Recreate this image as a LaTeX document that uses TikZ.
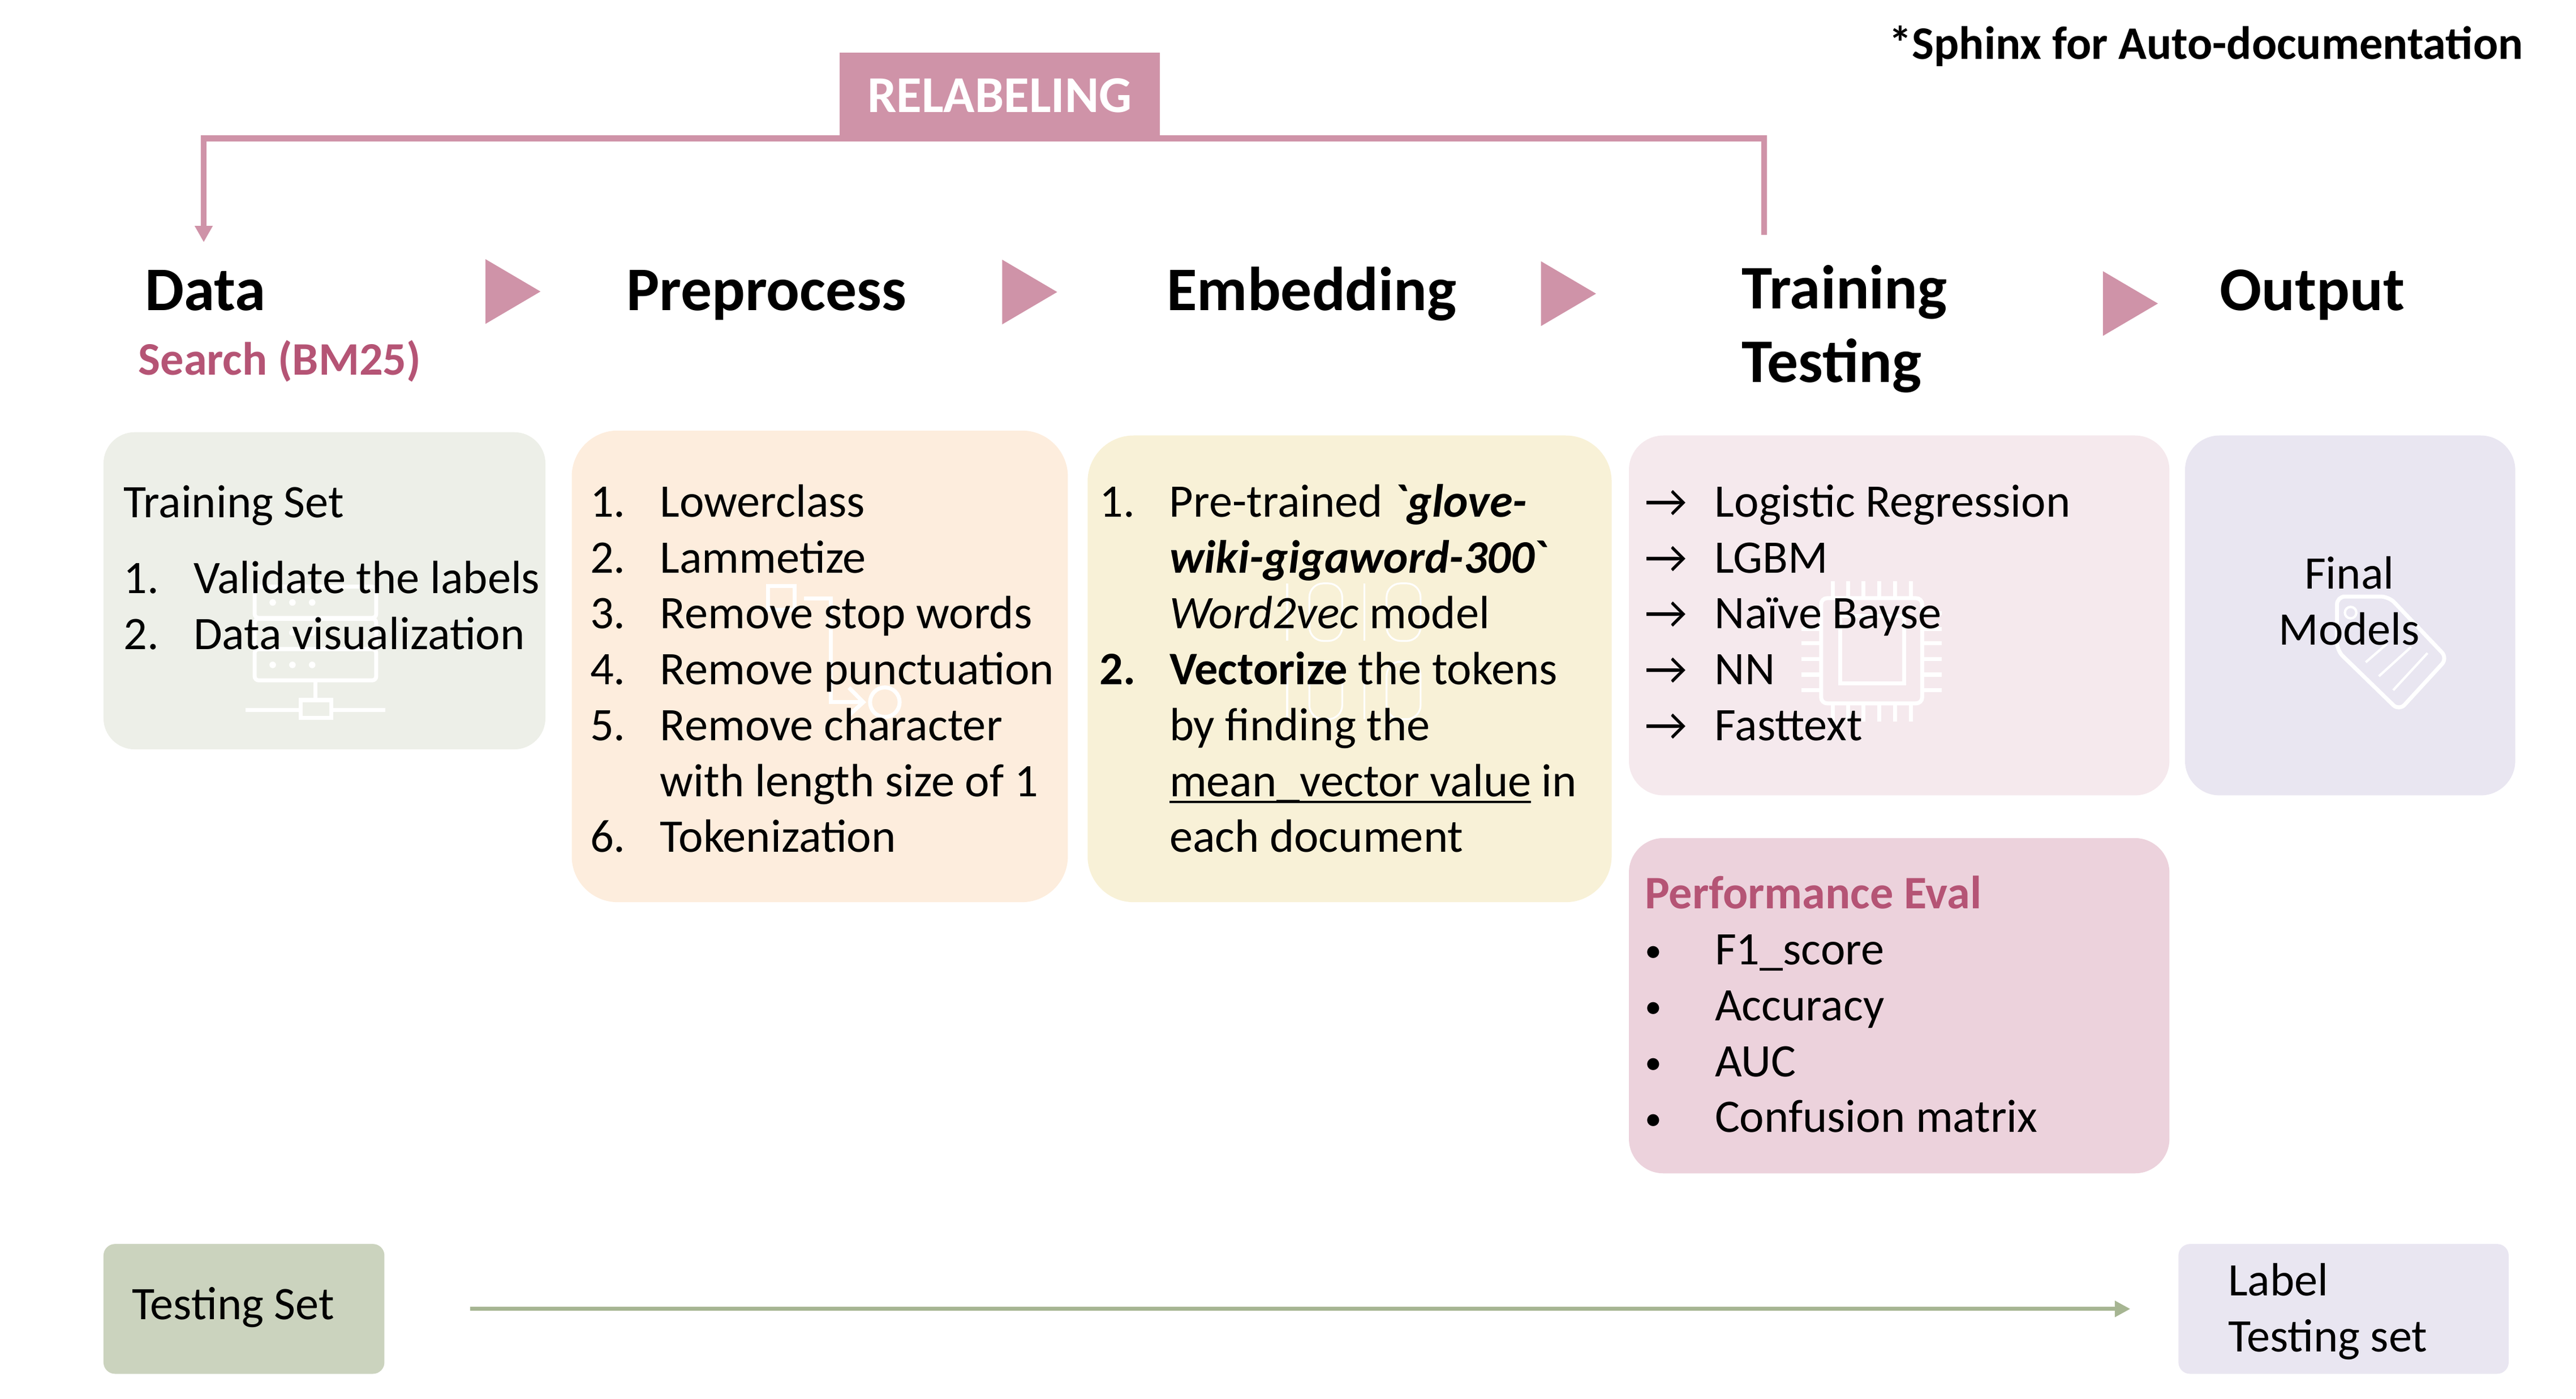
\documentclass[tikz,border=0pt]{standalone}
\usepackage{fontspec}
\setmainfont{Carlito}[Ligatures=TeXOff]
\usetikzlibrary{arrows.meta}
\definecolor{rosebar}{HTML}{CF93A8}
\definecolor{rosetext}{HTML}{B55475}
\definecolor{trainfill}{HTML}{EDEFE8}
\definecolor{prepfill}{HTML}{FDEDDD}
\definecolor{embedfill}{HTML}{F8F1D7}
\definecolor{modelfill}{HTML}{F5E9ED}
\definecolor{evalfill}{HTML}{ECD2DC}
\definecolor{outfill}{HTML}{E9E6F1}
\definecolor{testfill}{HTML}{CBD3BE}
\definecolor{testline}{HTML}{A6B592}
\newcommand{\dpx}{0.02904cm}
\newcommand{\smallbullet}{\raisebox{1.4pt}{\fontsize{17}{17}\selectfont •}}
\newcommand{\lineunder}[1]{\setbox0\hbox{#1}\rlap{\rule[-3.3pt]{\wd0}{1pt}}\box0\relax}
\newenvironment{steplist}{\begin{tabular}[t]{@{}p{35.2pt}@{}l@{}}}{\end{tabular}}
\begin{document}
\begin{tikzpicture}[x=0.02904cm,y=-0.02904cm]
  \tikzstyle{panel}=[rectangle,inner sep=0pt]
  \tikzstyle{headtext}=[inner sep=0pt,anchor=base west,font=\fontsize{31.2}{37}\selectfont\bfseries]
  \tikzstyle{subtext}=[inner sep=0pt,anchor=base west,text=rosetext,font=\fontsize{23.45}{28.1}\selectfont\bfseries]
  \tikzstyle{bodytext}=[inner sep=0pt,anchor=north west,align=left,font=\fontsize{23.45}{28.1}\selectfont]
  \tikzstyle{icon}=[draw=white,line width=2pt]
  \useasboundingbox (0,0) rectangle (1568,851);

  \node[panel,fill=trainfill,minimum width=269*\dpx,minimum height=193*\dpx,rounded corners=19*\dpx] (trainBox) at (197.5,359.5) {};
  \node[panel,fill=prepfill,minimum width=302*\dpx,minimum height=287*\dpx,rounded corners=28*\dpx] (prepBox) at (499,405.5) {};
  \node[panel,fill=embedfill,minimum width=319*\dpx,minimum height=284*\dpx,rounded corners=28*\dpx] (embedBox) at (821.5,407) {};
  \node[panel,fill=modelfill,minimum width=329*\dpx,minimum height=219*\dpx,rounded corners=21*\dpx] (modelBox) at (1156,374.5) {};
  \node[panel,fill=outfill,minimum width=201*\dpx,minimum height=219*\dpx,rounded corners=21*\dpx] (outBox) at (1430.5,374.5) {};
  \node[panel,fill=evalfill,minimum width=329*\dpx,minimum height=204*\dpx,rounded corners=21*\dpx] (evalBox) at (1156,612) {};
  \node[panel,fill=testfill,minimum width=171*\dpx,minimum height=79*\dpx,rounded corners=7*\dpx] (testBox) at (148.5,796.5) {};
  \node[panel,fill=outfill,minimum width=201*\dpx,minimum height=79*\dpx,rounded corners=7*\dpx] (labelBox) at (1426.5,796.5) {};

  \draw[icon,rounded corners=2] (155,357) rectangle (229,376);
  \draw[icon,rounded corners=2] (155,376.5) rectangle (229,395);
  \draw[icon,rounded corners=2] (155,395) rectangle (229,414);
  \foreach \dotx in {166,178,190}
    \foreach \doty in {366.6,385,404.6}
      \fill[white] (\dotx,\doty) circle (2);
  \draw[icon] (192,414) -- (192,426) (183,426) rectangle (201.5,437) (149.5,432) -- (183,432) (201.5,432) -- (234.5,432);

  \draw[icon] (467.6,356.6) rectangle (483.8,371);
  \draw[icon] (489.3,364.3) -- (505.8,364.3) -- (505.8,427.3) -- (525.5,427.3);
  \draw[icon] (516.7,418.4) -- (525.5,427.3) -- (516.7,435.3);
  \draw[icon] (538.6,427.3) circle (9);

  \foreach \biny in {355,402.6}{
    \draw[draw=white,line width=0.9pt] (783.5,\biny) -- ++(0,35);
    \draw[draw=white,line width=0.9pt,rounded corners=7] (797,\biny) rectangle ++(20,35);
    \draw[draw=white,line width=0.9pt] (830.5,\biny) -- ++(0,35);
    \draw[draw=white,line width=0.9pt,rounded corners=7] (844,\biny) rectangle ++(20.7,35);
  }

  \draw[icon,rounded corners=3] (1108.5,364) rectangle (1170,428);
  \draw[icon] (1120,375) rectangle (1159,416);
  \foreach \pinx in {1115.7,1124.8,1134.3,1144,1153.6,1163}
    \draw[icon] (\pinx,353.7) -- (\pinx,364) (\pinx,428) -- (\pinx,439);
  \foreach \piny in {373.3,382.8,391.5,401,410.5,420}
    \draw[icon] (1096.5,\piny) -- (1108.5,\piny) (1170,\piny) -- (1182,\piny);

  \draw[icon,rounded corners=4] (1430.8,363) -- (1454,363) -- (1489.7,400.5) -- (1460.3,432.5) -- (1422.5,395.8) -- (1422.5,363) -- cycle;
  \draw[icon,line width=1.2pt] (1430.8,372.8) circle (3.5);
  \draw[icon,line width=1.2pt] (1452.8,391.9) -- (1440,403) (1467.7,393.6) -- (1448,411.5) (1477.6,397.4) -- (1456.7,420);

  \node[panel,fill=rosebar,minimum width=195*\dpx,minimum height=52*\dpx,text=white,font=\fontsize{26}{30}\selectfont\bfseries] (relabelBox) at (608.5,58) {RELABELING};
  \coordinate (trainEnd) at (1073.8,143);
  \coordinate (dataEnd) at (124,147.4);
  \draw[rosebar,line width=3pt,-{Triangle[length=8.2pt,width=8.5pt]}] (trainEnd) |- (relabelBox.south) -| (dataEnd);

  \foreach \tx/\ty in {295.5/157.7,610/158,938/159,1280/165}
    \fill[rosebar] (\tx,\ty) -- ++(33.5,19.7) -- ++(-33.5,19.7) -- cycle;

  \node[headtext] (dataHead) at (88,189) {Data};
  \node[subtext] (searchHead) at (84,228) {Search (BM25)};
  \node[headtext] (prepHead) at (381,189) {Preprocess};
  \node[headtext] (embedHead) at (710,189) {Embedding};
  \node[headtext,anchor=north west,align=left] (modelHead) at (1060,161) {Training\\Testing};
  \node[headtext] (outHead) at (1351,189) {Output};
  \node[inner sep=0pt,anchor=base east,font=\fontsize{23.45}{28.1}\selectfont\bfseries] (sphinxNote) at (1536,36) {*Sphinx for Auto-documentation};

  \node[bodytext] (trainTitle) at (75,295) {Training Set};
  \node[bodytext] (trainList) at (75,337) {\begin{steplist}
    1.&Validate the labels\\
    2.&Data visualization
  \end{steplist}};
  \node[bodytext] (prepList) at (359,290.5) {\begin{steplist}
    1.&Lowerclass\\
    2.&Lammetize\\
    3.&Remove stop words\\
    4.&Remove punctuation\\
    5.&Remove character\\
    &with length size of 1\\
    6.&Tokenization
  \end{steplist}};
  \node[bodytext] (embedList) at (669,290.5) {\begin{steplist}
    1.&Pre-trained \textbf{\textit{`glove-}}\\
    &\textbf{\textit{wiki-gigaword-300}}\textbf{`}\\
    &\textit{Word2vec} model\\
    \textbf{2.}&\textbf{Vectorize} the tokens\\
    &by finding the\\
    &\lineunder{mean\_vector value} in\\
    &each document
  \end{steplist}};
  \node[bodytext] (modelList) at (1001,290.5) {\begin{steplist}
    →&Logistic Regression\\
    →&LGBM\\
    →&Naïve Bayse\\
    →&NN\\
    →&Fasttext
  \end{steplist}};
  \node[bodytext,anchor=center,align=center] (outText) at (1430,365.5) {Final\\Models};
  \node[subtext] (evalTitle) at (1001,553) {Performance Eval};
  \node[bodytext] (evalList) at (1001,563) {\begin{steplist}
    \smallbullet&F1\_score\\
    \smallbullet&Accuracy\\
    \smallbullet&AUC\\
    \smallbullet&Confusion matrix
  \end{steplist}};
  \node[bodytext,anchor=west] (testText) at (80,795.5) {Testing Set};
  \node[bodytext,anchor=west] (labelText) at (1356,798) {Label\\Testing set};

  \draw[testline,line width=1.9pt,shorten <=43pt,shorten >=24pt,-{Triangle[length=7.8pt,width=7.8pt]}] (testBox) -- (labelBox);
\end{tikzpicture}
\end{document}
